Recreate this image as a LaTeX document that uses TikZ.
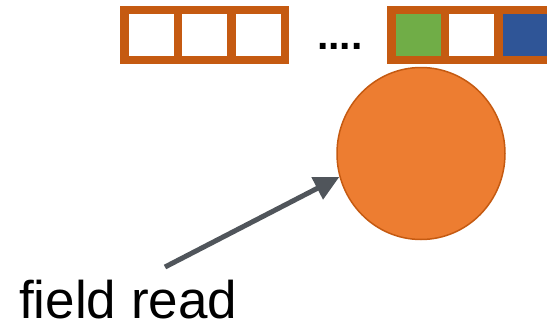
\documentclass[tikz,border=0pt]{standalone}
\usepackage{fontspec}
\setmainfont{Liberation Sans}
\usetikzlibrary{arrows.meta,shapes.geometric}
\definecolor{rim}{HTML}{C55A11}
\definecolor{ballfill}{HTML}{ED7D31}
\definecolor{cellgreen}{HTML}{70AD47}
\definecolor{cellblue}{HTML}{2F5597}
\definecolor{arrowgray}{HTML}{50555B}
\tikzset{
  cell/.style={draw=rim, line width=8.5pt, minimum width=53.5pt, minimum height=50pt,
    inner sep=0pt, outer sep=0pt, anchor=west},
  ball/.style={ellipse, draw=rim, fill=ballfill, line width=1.5pt,
    minimum width=168pt, minimum height=172pt, inner sep=0pt},
  pointer/.style={draw=arrowgray, line width=5pt, -{Triangle[length=25pt,width=24pt]}},
  caption/.style={font=\fontsize{53}{60}\selectfont, inner sep=0pt, text depth=0pt,
    anchor=base west},
}
\begin{document}
\begin{tikzpicture}[x=1pt,y=-1pt]
  \useasboundingbox (0,0) rectangle (547,327);
  \clip (0,0) rectangle (547,327);
  % left row of empty cells
  \node[cell, fill=white] (a1) at (124.5,35) {};
  \node[cell, fill=white] (a2) at (a1.east) {};
  \node[cell, fill=white] (a3) at (a2.east) {};
  % ellipsis between rows
  \node[inner sep=0pt, anchor=base west, font=\bfseries\fontsize{41}{48}\selectfont] (dots) at (317,49.5) {....};
  % right row of cells
  \node[cell, fill=cellgreen] (b1) at (391.5,35) {};
  \node[cell, fill=white] (b2) at (b1.east) {};
  \node[cell, fill=cellblue] (b3) at (b2.east) {};
  % the object being read
  \node[ball] (obj) at (421,153.5) {};
  % label and its pointer
  \node[caption] (lbl) at (19,318) {field read};
  \coordinate (tail) at (165,267);
  \draw[pointer] (tail) -- (obj.196);
\end{tikzpicture}
\end{document}
